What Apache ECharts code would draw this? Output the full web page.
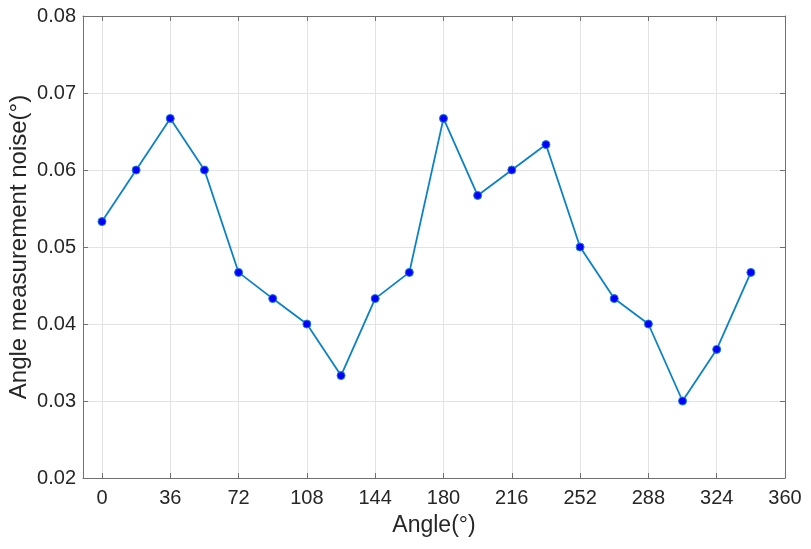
<!DOCTYPE html>
<html><head><meta charset="utf-8">
<script src="https://cdn.jsdelivr.net/npm/echarts@6/dist/echarts.min.js"></script>
<style>html,body{margin:0;padding:0;background:#fff}#c{width:811px;height:549px}</style>
</head><body><div id="c"></div>
<script>
const angles = [0,18,36,54,72,90,108,126,144,162,180,198,216,234,252,270,288,306,324,342];
const noise = [0.0533,0.0600,0.0667,0.0600,0.0467,0.0433,0.0400,0.0333,0.0433,0.0467,0.0667,0.0567,0.0600,0.0633,0.0500,0.0433,0.0400,0.0300,0.0367,0.0467];
const xTicks = [0,36,72,108,144,180,216,252,288,324,360];
const xTitle = 'Angle(°)';
const yTitle = 'Angle measurement noise(°)';

const axisCol = '#707070';
const txtCol = '#262626';
const font = 'Liberation Sans, Arial, sans-serif';
const chart = echarts.init(document.getElementById('c'));
const baseX = {
  type:'value', min:-10, max:360,
  axisLine:{show:true,onZero:false,lineStyle:{color:axisCol,width:1}},
  axisTick:{show:true,inside:true,length:5,customValues:xTicks,lineStyle:{color:axisCol}},
  splitLine:{show:false}
};
const baseY = {
  type:'value', min:0.02, max:0.08, interval:0.01,
  axisLine:{show:true,onZero:false,lineStyle:{color:axisCol,width:1}},
  axisTick:{show:true,inside:true,length:5,lineStyle:{color:axisCol}},
  splitLine:{show:false}
};
chart.setOption({
  backgroundColor:'#fff',
  animation:false,
  grid:{left:83,right:26,top:16,bottom:71,containLabel:false,outerBoundsMode:'none'},
  xAxis:[
    Object.assign({}, baseX, {
      position:'bottom',
      name:xTitle, nameLocation:'middle', nameGap:36, nameMoveOverlap:false,
      nameTextStyle:{color:txtCol,fontSize:23,fontFamily:font},
      axisLabel:{color:txtCol,fontSize:20,fontFamily:font,margin:10,customValues:xTicks},
      splitLine:{show:true,lineStyle:{color:'#e3e3e3',width:1}}
    }),
    Object.assign({}, baseX, {position:'top', axisLabel:{show:false}})
  ],
  yAxis:[
    Object.assign({}, baseY, {
      position:'left',
      name:yTitle, nameLocation:'middle', nameGap:52, nameMoveOverlap:false,
      nameTextStyle:{color:txtCol,fontSize:24,fontFamily:font},
      axisLabel:{color:txtCol,fontSize:20,fontFamily:font,margin:7,
        formatter:v=>v.toFixed(2)},
      splitLine:{show:true,lineStyle:{color:'#e3e3e3',width:1}}
    }),
    Object.assign({}, baseY, {position:'right', axisLabel:{show:false}})
  ],
  series:[{
    type:'line',
    data: angles.map((a,i)=>[a,noise[i]]),
    symbol:'circle', symbolSize:8,
    lineStyle:{color:'#0a82c6',width:1.8},
    itemStyle:{color:'#0000ff',borderColor:'#1a7fd0',borderWidth:1},
    emphasis:{disabled:true}
  }]
});
</script></body></html>
